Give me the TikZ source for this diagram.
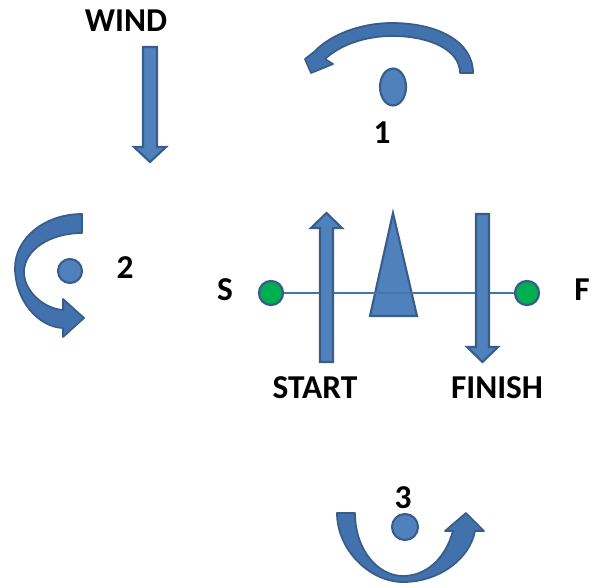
\documentclass[tikz,border=0pt]{standalone}
\usepackage{fontspec}
\setmainfont{Carlito}
\usetikzlibrary{shapes.geometric}
\definecolor{azul}{HTML}{4F81BD}
\definecolor{azulesc}{HTML}{4272AE}
\definecolor{borda}{HTML}{385D8A}
\definecolor{verde}{HTML}{00B050}
\tikzset{
  rotulo/.style={font=\bfseries\fontsize{19}{21}\selectfont, inner sep=0pt},
  seta/.style={fill=azul, draw=borda, line width=1.2pt, line join=miter},
  curva/.style={fill=azulesc, draw=borda, line width=1pt, line join=round},
  marca/.style={circle, fill=verde, draw=borda, line width=1.3pt, minimum size=0.48cm, inner sep=0pt},
  corpo/.style={fill=azul, draw=borda, line width=1.2pt, inner sep=0pt}
}
\begin{document}
\begin{tikzpicture}[x=0.02cm, y=-0.02cm]
            \useasboundingbox (0,0) rectangle (592,588);
            %rótulos
            \node[rotulo] (wind) at (126,21) {WIND};
            \node[rotulo] (n1) at (382,133) {1};
            \node[rotulo] (n2) at (125,268) {2};
            \node[rotulo] (n3) at (403,498) {3};
            \node[rotulo] (ls) at (225,290) {S};
            \node[rotulo] (lf) at (582,290) {F};
            \node[rotulo] (start) at (315,388) {START};
            \node[rotulo] (finish) at (497,388) {FINISH};

            %vento
            \draw[seta] (143,47) -- (157,47) -- (157,147) -- (166,147) -- (150,162)
                        -- (134,147) -- (143,147) -- cycle;

            %giros
            \draw[curva] (473,73) .. controls (473,40) and (435,23) .. (392,23)
                         .. controls (360,23) and (330,35) .. (314,52)
                         -- (305,59) -- (311,73) -- (333,64) -- (325,59)
                         .. controls (340,45) and (365,36) .. (392,36)
                         .. controls (430,36) and (460,50) .. (460,73) -- cycle;
            \draw[curva] (82,214) .. controls (45,214) and (15,238) .. (15,268)
                         .. controls (15,300) and (38,327) .. (63,328)
                         -- (63,337) -- (84,318) -- (63,299) -- (63,310)
                         .. controls (45,309) and (24,292) .. (24,272)
                         .. controls (24,250) and (50,233) .. (82,233) -- cycle;
            \draw[curva] (337,513) .. controls (337,550) and (370,582) .. (403,582)
                         .. controls (440,582) and (470,558) .. (475,531)
                         -- (484,531) -- (466,513) -- (445,531) -- (453,531)
                         .. controls (445,560) and (425,576) .. (403,576)
                         .. controls (378,576) and (355,550) .. (355,513) -- cycle;

            %corpos
            \node[corpo, ellipse, minimum width=0.52cm, minimum height=0.74cm] (b1) at (393,87) {};
            \node[corpo, circle, minimum size=0.48cm] (b2) at (70,271) {};
            \node[corpo, circle, minimum size=0.52cm] (b3) at (405,527) {};

            %barco
            \draw[corpo] (393,213) -- (417,316) -- (370,316) -- cycle;

            %linha
            \node[marca] (s) at (271,293) {};
            \node[marca] (f) at (527,293) {};
            \draw[azul!90!black, line width=0.9pt] (s) -- (f);

            %partida e chegada
            \draw[seta] (320,362) -- (333,362) -- (333,228) -- (342,228) -- (326.5,213)
                        -- (311,228) -- (320,228) -- cycle;
            \draw[seta] (476,214) -- (489,214) -- (489,347) -- (498,347) -- (482.5,362)
                        -- (467,347) -- (476,347) -- cycle;
\end{tikzpicture}
\end{document}
